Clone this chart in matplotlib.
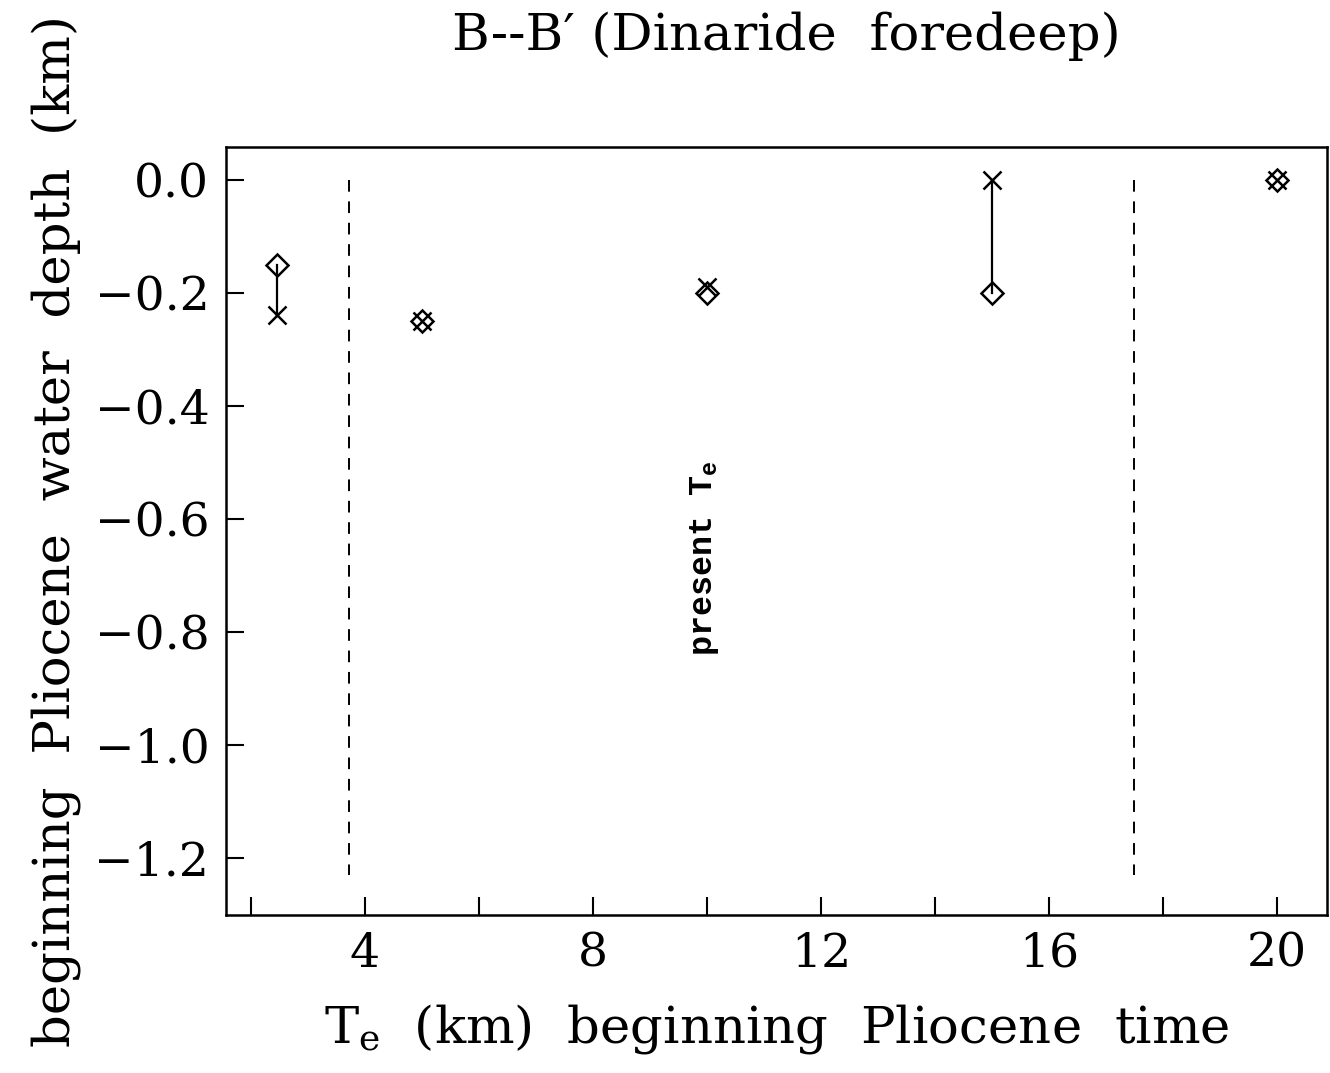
import numpy as np
import matplotlib.pyplot as plt

# Te (km) values and water depth (km) for the two model types
te_x = [2.45, 5, 10, 15, 20]
depth_x = [-0.24, -0.25, -0.19, 0.0, 0.0]
te_d = [2.45, 5, 10, 15, 20]
depth_d = [-0.15, -0.25, -0.20, -0.20, 0.0]

# present Te range (dashed bounds)
present_te = [3.72, 17.5]
present_top, present_bottom = 0.0, -1.23

xticks = [2, 4, 6, 8, 10, 12, 14, 16, 18, 20]
xticklabels = ["", "4", "", "8", "", "12", "", "16", "", "20"]
yticks = [0.0, -0.2, -0.4, -0.6, -0.8, -1.0, -1.2]
yticklabels = ["0.0", "\u22120.2", "\u22120.4", "\u22120.6", "\u22120.8", "\u22121.0", "\u22121.2"]

plt.rcParams["font.family"] = ["DejaVu Serif"]
plt.rcParams["mathtext.fontset"] = "dejavuserif"

fig = plt.figure(figsize=(13.3, 10.73), dpi=100)
ax = fig.add_axes([226 / 1330, 1 - 915 / 1073, (1327 - 226) / 1330, (915 - 147) / 1073])

# connecting lines where the two results differ
for xa, ya, yb in zip(te_x, depth_x, depth_d):
    if abs(ya - yb) > 0.02:
        ax.plot([xa, xa], [ya, yb], color="black", lw=1.6)

ax.plot(te_d, depth_d, linestyle="none", marker="D", markersize=11,
        markerfacecolor="none", markeredgecolor="black", markeredgewidth=1.8)
ax.plot(te_x, depth_x, linestyle="none", marker="x", markersize=13,
        color="black", markeredgewidth=1.8)

for xv in present_te:
    ax.plot([xv, xv], [present_top, present_bottom], color="black", lw=1.4,
            linestyle=(0, (6, 5)))

ax.text(9.96, -0.67, "present T$_\\mathregular{e}$", rotation=90, ha="center", va="center",
        fontsize=24, family="Liberation Mono", fontweight="bold")

ax.set_xlim(1.56, 20.88)
ax.set_ylim(-1.301, 0.058)
ax.set_xticks(xticks)
ax.set_xticklabels(xticklabels)
ax.set_yticks(yticks)
ax.set_yticklabels(yticklabels)
ax.tick_params(direction="in", length=13, width=1.5, labelsize=34, pad=12,
               top=False, right=False)
for s in ax.spines.values():
    s.set_linewidth(1.8)

ax.set_xlabel("T$_\\mathregular{e}$  (km)  beginning  Pliocene  time", fontsize=37, labelpad=18)
ax.set_ylabel("beginning  Pliocene  water  depth  (km)", fontsize=37, labelpad=10)
fig.text(786 / 1330, 1 - 36 / 1073, "B--B\u2032 (Dinaride  foredeep)", fontsize=37,
         ha="center", va="center")

fig.savefig("out.png", dpi=100)
